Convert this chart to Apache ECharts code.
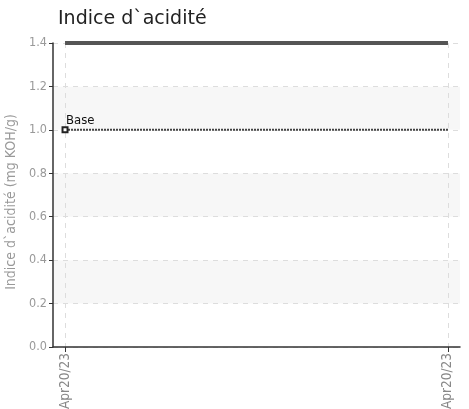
<!DOCTYPE html>
<html><head><meta charset="utf-8">
<script src="https://cdn.jsdelivr.net/npm/echarts@6/dist/echarts.min.js"></script>
<style>html,body{margin:0;padding:0;background:#fff}#c{width:469px;height:409px}</style>
</head><body><div id="c"></div>
<script>
const title = 'Indice d`acidité';
const yAxisName = 'Indice d`acidité (mg KOH/g)';
const dates = ['Apr20/23', 'Apr20/23'];
const limitValues = [1.4, 1.4];
const baseValues = [1.0, 1.0];
const baseLabel = 'Base';
const yTicks = [0, 0.2, 0.4, 0.6, 0.8, 1.0, 1.2, 1.4];

const idx = dates.map((d, i) => i);
const narrow = "'Liberation Sans Narrow', 'DejaVu Sans Condensed', sans-serif";
const chart = echarts.init(document.getElementById('c'), null, {renderer: 'canvas'});
chart.setOption({
  animation: false,
  title: {text: title, left: 53, top: 5, textStyle: {fontFamily: 'DejaVu Sans', fontSize: 19, fontWeight: 'normal', color: '#222'}},
  grid: {left: 53, right: 9, top: 43, bottom: 62, containLabel: false, outerBoundsMode: 'none'},
  xAxis: {
    type: 'value', min: -0.0314, max: 1.0314,
    axisLine: {show: true, onZero: false, lineStyle: {color: '#333', width: 1.5}},
    axisTick: {show: true, customValues: idx, length: 5, lineStyle: {color: '#333'}},
    axisLabel: {customValues: idx, rotate: 90, formatter: v => dates[Math.round(v)], color: '#888', fontFamily: narrow, fontSize: 13.5, margin: 6},
    splitLine: {show: true, lineStyle: {color: '#ddd', type: [5, 5]}}
  },
  yAxis: {
    type: 'value', min: yTicks[0], max: yTicks[yTicks.length - 1], interval: 0.2,
    name: yAxisName, nameLocation: 'middle', nameGap: 32,
    nameTextStyle: {color: '#999', fontFamily: narrow, fontSize: 14, padding: [0, 14, 0, 0]},
    axisLine: {show: true, onZero: false, lineStyle: {color: '#333', width: 1.5}},
    axisTick: {show: true, length: 4, lineStyle: {color: '#333'}},
    axisLabel: {color: '#999', fontFamily: narrow, fontSize: 12.5, margin: 6, formatter: v => v.toFixed(1)},
    splitLine: {show: true, lineStyle: {color: '#ddd', type: [5, 5]}},
    splitArea: {show: true, areaStyle: {color: ['#ffffff', '#f7f7f7']}}
  },
  series: [
    {
      type: 'line', data: idx.map(i => [i, limitValues[i]]), showSymbol: false, symbol: 'none',
      lineStyle: {color: '#555', width: 4}
    },
    {
      type: 'line', data: idx.map(i => ({
        value: [i, baseValues[i]],
        symbol: i === 0 ? 'emptyRect' : 'none',
        label: {show: i === 0}
      })),
      symbol: 'emptyRect', symbolSize: 5, showAllSymbol: true,
      itemStyle: {color: '#222', borderColor: '#222', borderWidth: 1},
      lineStyle: {color: '#444', width: 2, type: [2, 1]},
      label: {show: false, formatter: baseLabel, position: 'top', align: 'left', offset: [1, 6], color: '#111', fontFamily: narrow, fontSize: 13}
    }
  ]
});
</script></body></html>
